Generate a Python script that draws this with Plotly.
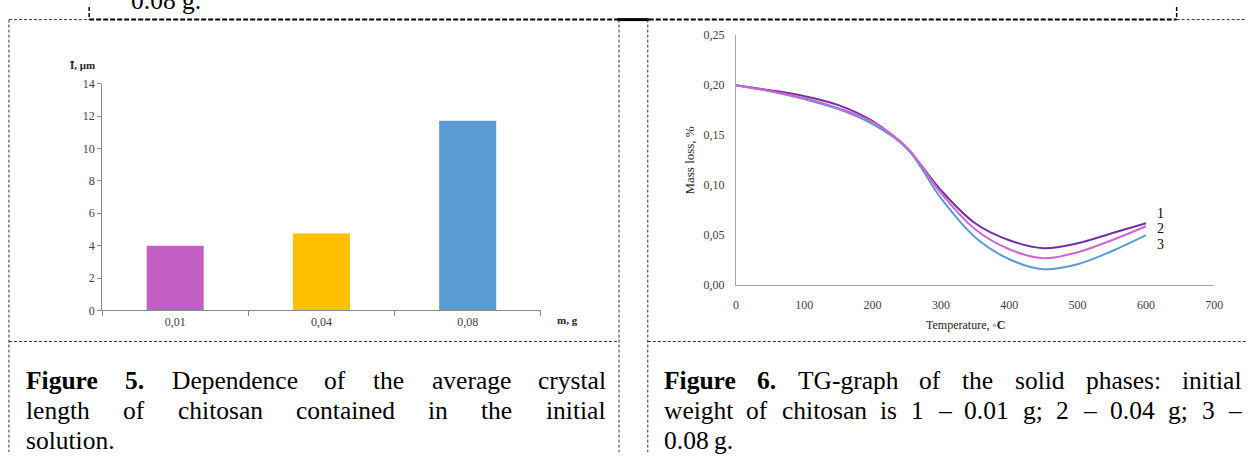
import plotly.graph_objects as go

# ---------------- data ----------------
m_labels = ["0,01", "0,04", "0,08"]
crystal_len = [4.0, 4.75, 11.7]
bar_colors = ["#C55EC3", "#FFC000", "#5B9BD5"]

temps = [0, 50, 100, 150, 200, 250, 300, 350, 400, 450, 500, 550, 600]
loss_1 = [0.200, 0.195, 0.189, 0.180, 0.164, 0.137, 0.095, 0.062, 0.045, 0.037, 0.042, 0.052, 0.062]
loss_2 = [0.200, 0.194, 0.187, 0.177, 0.163, 0.138, 0.092, 0.056, 0.036, 0.027, 0.033, 0.045, 0.059]
loss_3 = [0.200, 0.194, 0.186, 0.176, 0.161, 0.137, 0.087, 0.048, 0.026, 0.016, 0.021, 0.034, 0.050]
curve_names = ["1", "2", "3"]
curve_colors = ["#7030A0", "#D065D0", "#5B9BD5"]

cap5_lines = [["Figure 5.", "Dependence of the average crystal"],
              [None, "length of chitosan contained in the initial"],
              [None, "solution."]]
cap6_lines = [["Figure 6.", "TG-graph of the solid phases: initial"],
              [None, "weight of chitosan is 1 – 0.01 g; 2 – 0.04 g; 3 –"],
              [None, "0.08 g."]]

W, H = 1255, 459
SERIF = "Liberation Serif"


def X(px):
    return px / W


def Y(py):
    return 1 - py / H


fig = go.Figure()

fig.add_trace(go.Bar(x=m_labels, y=crystal_len, marker_color=bar_colors,
                     marker_line_width=0, xaxis="x", yaxis="y"))

for idx in [0, 2, 1]:
    ys = [loss_1, loss_2, loss_3][idx]
    fig.add_trace(go.Scatter(x=temps, y=ys, mode="lines", name=curve_names[idx],
                             line=dict(color=curve_colors[idx], width=2, shape="spline", smoothing=1.0),
                             xaxis="x2", yaxis="y2"))

# ---------------- caption text (justified by word placement) ----------------
REG = dict(a=444, b=500, c=444, d=500, e=444, f=333, g=500, h=500, i=278, j=278, k=500, l=278, m=778,
           n=500, o=500, p=500, q=500, r=333, s=389, t=278, u=500, v=500, w=722, x=500, y=500, z=444,
           D=722, T=611, G=722, F=556)
REG.update({str(k): 500 for k in range(10)})
REG.update({".": 250, ",": 250, ":": 278, ";": 278, "-": 333, "–": 500, " ": 250})
BOLD = dict(F=611, i=278, g=500, u=556, r=444, e=444)
BOLD.update({str(k): 500 for k in range(10)})
BOLD.update({".": 250, " ": 250})


def wwidth(word, bold, fs):
    tab = BOLD if bold else REG
    return sum(tab.get(ch, 500) for ch in word) / 1000 * fs


annotations = []
FS = 25.5


def place_caption(lines, left, right, ys):
    for li, (boldpart, rest) in enumerate(lines):
        words = []
        if boldpart:
            words += [(w, True) for w in boldpart.split(" ")]
        words += [(w, False) for w in rest.split(" ")]
        widths = [wwidth(w, b, FS) for w, b in words]
        last = li == len(lines) - 1
        if last or len(words) == 1:
            gap = 0.25 * FS
        else:
            gap = (right - left - sum(widths)) / (len(words) - 1)
        x = left
        for (w, b), wd in zip(words, widths):
            annotations.append(dict(x=X(x), y=Y(ys[li]), xref="paper", yref="paper",
                                    text=f"<b>{w}</b>" if b else w, showarrow=False,
                                    xanchor="left", yanchor="middle", borderpad=0,
                                    font=dict(family=SERIF, size=FS, color="black")))
            x += wd + gap


place_caption(cap5_lines, 22, 607, [385, 416, 447])
place_caption(cap6_lines, 666, 1249, [385, 416, 447])

# cut-off text at the top
annotations.append(dict(x=X(128), y=Y(-7), xref="paper", yref="paper", text="0.08 g.",
                        showarrow=False, xanchor="left", yanchor="middle", borderpad=0,
                        font=dict(family=SERIF, size=FS, color="black")))

# axis titles
annotations += [
    dict(x=X(66), y=Y(60), xref="paper", yref="paper", text="<b>Ī, μm</b>", showarrow=False,
         xanchor="left", yanchor="middle", font=dict(family=SERIF, size=11, color="#262626")),
    dict(x=X(557), y=Y(323), xref="paper", yref="paper", text="<b>m, g</b>", showarrow=False,
         xanchor="left", yanchor="middle", font=dict(family=SERIF, size=11, color="#262626")),
    dict(x=X(693), y=Y(158), xref="paper", yref="paper", text="Mass loss, %", showarrow=False,
         textangle=-90, xanchor="center", yanchor="middle", font=dict(family=SERIF, size=13, color="#262626")),
    dict(x=X(972), y=Y(328), xref="paper", yref="paper", text="Temperature, ◦<b>C</b>", showarrow=False,
         xanchor="center", yanchor="middle", font=dict(family=SERIF, size=12, color="#262626")),
]
for name, py in zip(curve_names, [213, 228, 245]):
    annotations.append(dict(x=X(1163), y=Y(py), xref="paper", yref="paper", text=name, showarrow=False,
                            xanchor="left", yanchor="middle", font=dict(family=SERIF, size=14, color="black")))

# ---------------- table borders ----------------
shapes = []


def seg(x0, y0, x1, y1, width=1, dash="3px,2px", color="#333333"):
    shapes.append(dict(type="line", xref="paper", yref="paper", x0=X(x0), y0=Y(y0), x1=X(x1), y1=Y(y1),
                       line=dict(color=color, width=width, dash=dash)))


seg(6, 13, 87, 13)
seg(87, 13, 620, 13, width=2, dash="5px,2px", color="black")
seg(620, 13, 652, 13, width=3, dash="solid", color="black")
seg(652, 13, 1185, 13, width=2, dash="5px,2px", color="black")
seg(1185, 13, 1255, 13)
seg(87, 0, 87, 13, width=1.5, dash="4px,2px", color="black")
seg(1185, 0, 1185, 13, width=1.5, dash="4px,2px", color="black")
seg(6, 13, 6, 459)
seg(622, 13, 622, 459)
seg(651, 13, 651, 459)
seg(6, 345, 622, 345)
seg(651, 345, 1255, 345)

tickfont = dict(family=SERIF, size=12, color="#404040")
tickfont2 = dict(family=SERIF, size=12, color="#404040")

fig.update_layout(
    width=W, height=H, margin=dict(l=0, r=0, t=0, b=0),
    paper_bgcolor="white", plot_bgcolor="white", showlegend=False,
    separators=",.", bargap=0.61,
    xaxis=dict(domain=[X(100), X(543)], anchor="y", type="category", showline=True, linecolor="#898989",
               ticks="outside", tickson="boundaries", ticklen=5, tickcolor="#898989", showgrid=False,
               tickfont=tickfont),
    yaxis=dict(domain=[Y(313), Y(79)], anchor="x", range=[0, 14], dtick=2, showline=True,
               linecolor="#898989", ticks="outside", ticklen=4, tickcolor="#898989", showgrid=False,
               zeroline=False, tickfont=tickfont),
    xaxis2=dict(domain=[X(740), X(1223)], anchor="y2", range=[0, 700], dtick=100, showline=True,
                linecolor="#A6A6A6", ticks="outside", ticklen=8, tickcolor="rgba(0,0,0,0)",
                showgrid=False, zeroline=False, tickfont=tickfont2),
    yaxis2=dict(domain=[Y(287), Y(29)], anchor="x2", range=[0, 0.25], dtick=0.05, tickformat=".2f",
                showline=True, linecolor="#A6A6A6", ticks="outside", ticklen=8,
                tickcolor="rgba(0,0,0,0)", showgrid=False, zeroline=False, tickfont=tickfont2),
    annotations=annotations, shapes=shapes,
)

fig.write_html("out.html", config={"displayModeBar": False},
               post_script="document.body.style.margin='0px';document.body.style.overflow='hidden';")
